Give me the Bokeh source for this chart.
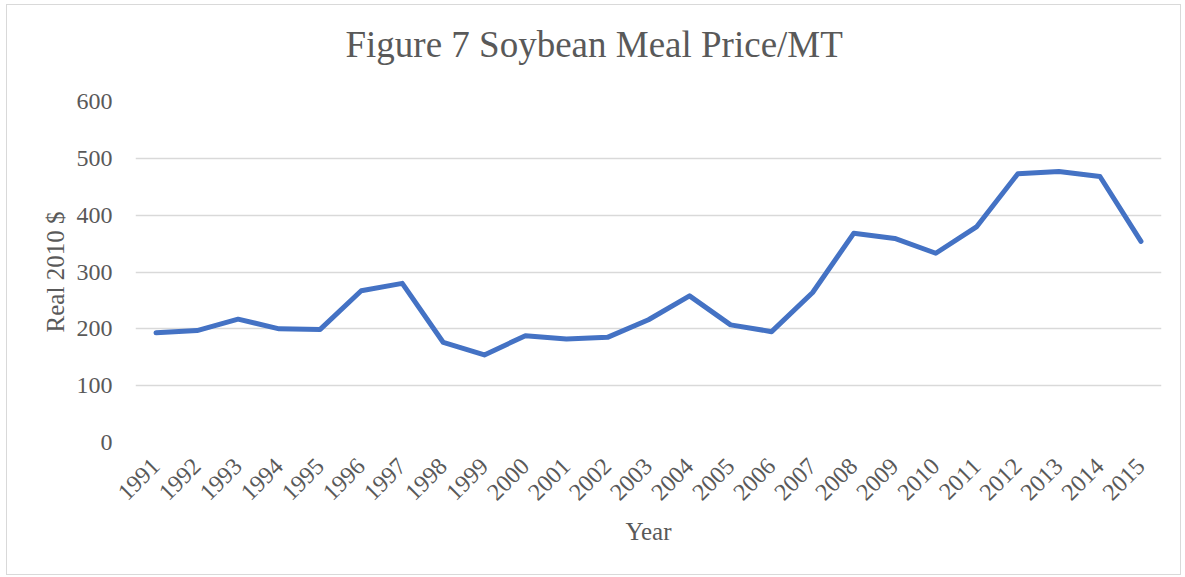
import math
from bokeh.plotting import figure
from bokeh.models import Range1d, FactorRange, SingleIntervalTicker, Title
from bokeh.embed import file_html
from bokeh.resources import INLINE

years = [str(y) for y in range(1991, 2016)]
price = [193, 197, 217, 200, 199, 267, 280, 176, 154, 188, 182, 185, 216, 258,
         207, 195, 264, 368, 359, 333, 380, 473, 477, 468, 354]

title_text = "Figure 7 Soybean Meal Price/MT"
x_label = "Year"
y_label = "Real 2010 $"

FONT = "Liberation Serif"
GRAY = "#595959"

p = figure(width=1175, height=571, x_range=FactorRange(*years), y_range=Range1d(0, 600),
           output_backend="svg", toolbar_location=None,
           min_border_left=128, min_border_right=21, min_border_top=96, min_border_bottom=134)
p.styles = {"border": "1px solid #d9d9d9", "margin-left": "6px", "margin-top": "4px"}

p.line(years, price, line_color="#4472C4", line_width=5, line_join="round", line_cap="round")

# spacer between the title and the plot area
spacer = Title(text=" ", text_font=FONT, text_font_size="24px", standoff=4)
p.add_layout(spacer, "above")
main_title = Title(text=title_text, align="left", offset=210, standoff=10,
                   text_font=FONT, text_font_size="37px", text_font_style="normal",
                   text_color=GRAY)
p.add_layout(main_title, "above")

p.outline_line_color = None
p.xgrid.grid_line_color = None
p.ygrid.grid_line_color = "#d9d9d9"
p.ygrid.grid_line_width = 1.5
p.yaxis.ticker = SingleIntervalTicker(interval=100)

for ax in (p.xaxis, p.yaxis):
    ax.axis_line_color = None
    ax.major_tick_line_color = None
    ax.minor_tick_line_color = None
    ax.major_tick_out = 0
    ax.major_tick_in = 0
    ax.major_label_text_font = FONT
    ax.major_label_text_font_size = "24px"
    ax.major_label_text_color = GRAY
    ax.axis_label_text_font = FONT
    ax.axis_label_text_font_size = "25px"
    ax.axis_label_text_color = GRAY
    ax.axis_label_text_font_style = "normal"

p.xaxis.axis_label = x_label
p.yaxis.axis_label = y_label
p.xaxis.major_label_orientation = math.pi / 4
p.xaxis.major_label_standoff = 20
p.yaxis.major_label_standoff = 19
p.xaxis.axis_label_standoff = 8
p.yaxis.axis_label_standoff = 5

open("out.html", "w").write(file_html(p, INLINE))
